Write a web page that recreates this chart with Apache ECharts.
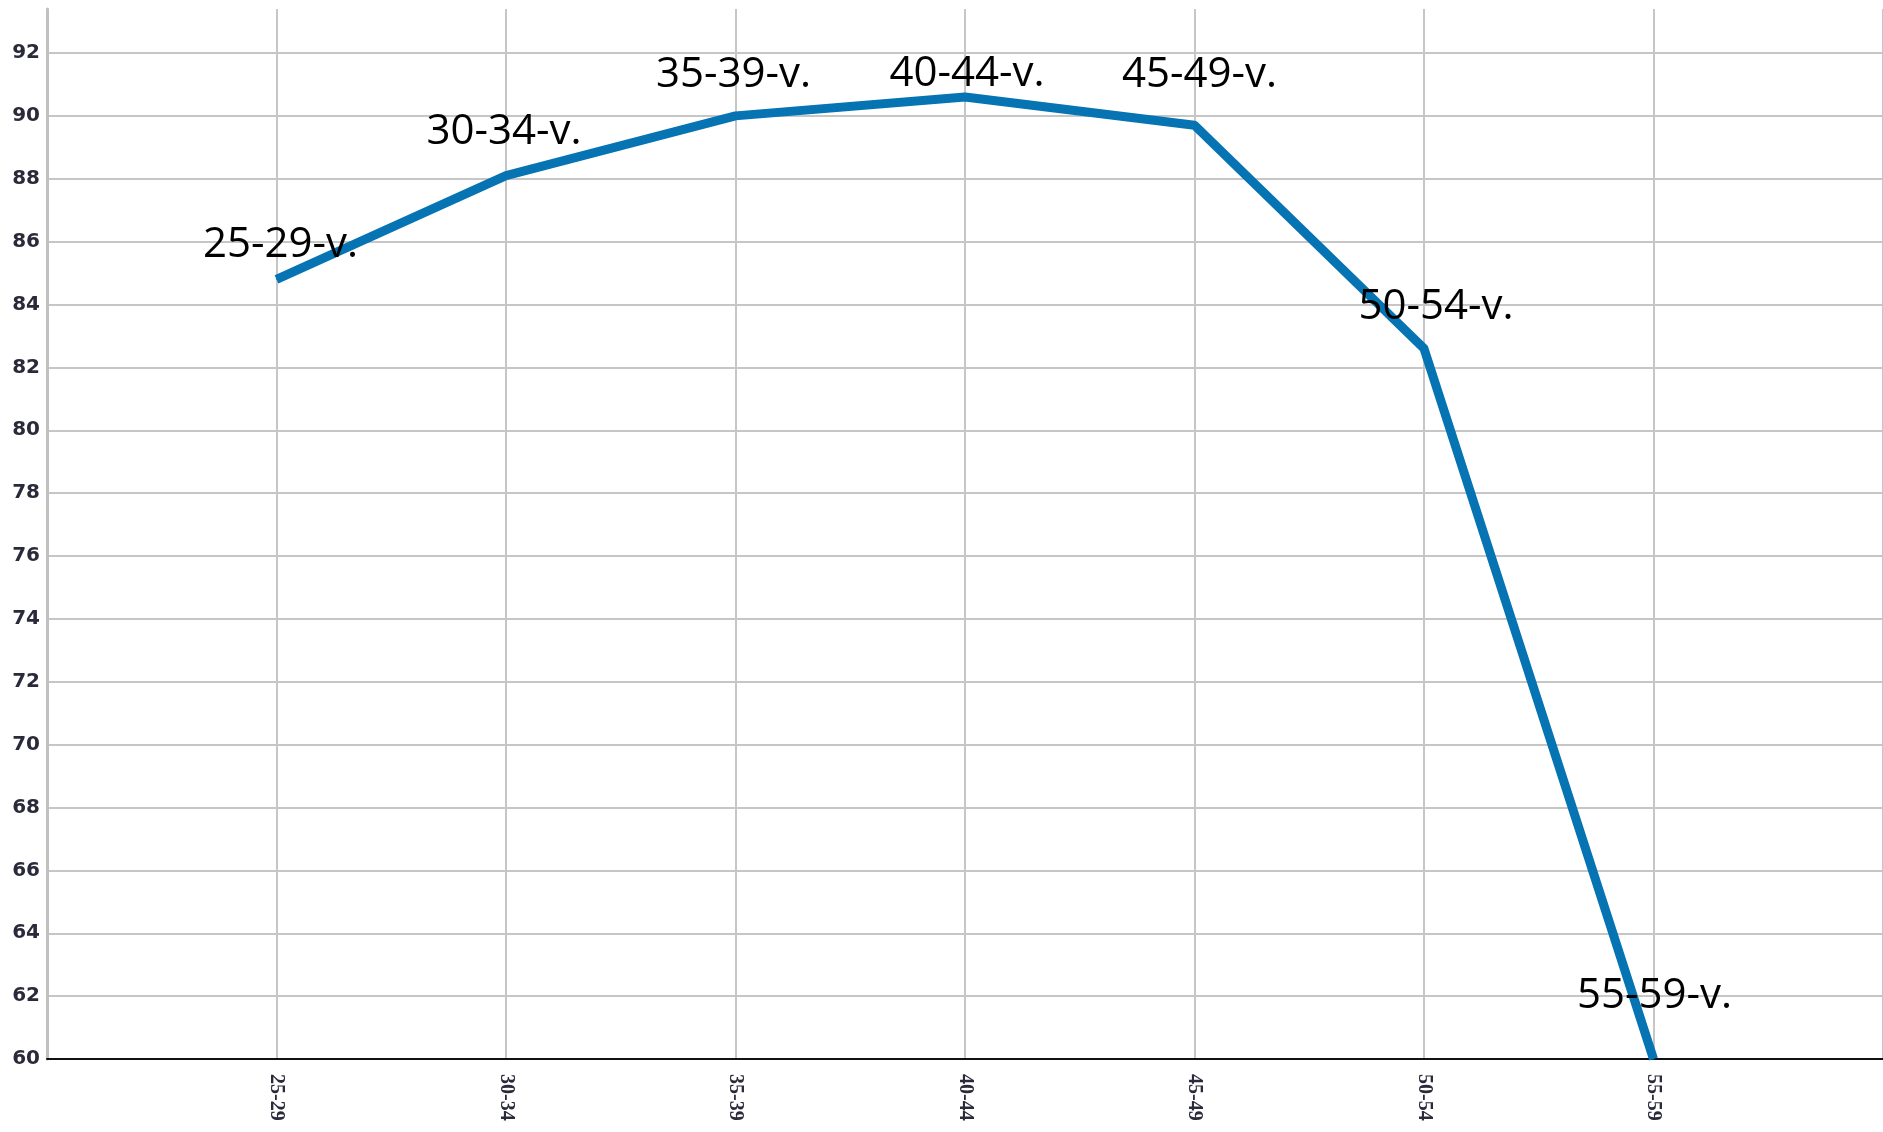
<!DOCTYPE html>
<html>
<head>
<meta charset="utf-8">
<script src="https://cdn.jsdelivr.net/npm/echarts@6/dist/echarts.min.js"></script>
<style>html,body{margin:0;padding:0;background:#fff}#c{width:1883px;height:1132px}</style>
</head>
<body>
<div id="c"></div>
<script>
const categories = ['', '25-29', '30-34', '35-39', '40-44', '45-49', '50-54', '55-59', ''];
const values = [null, 84.8, 88.1, 90.0, 90.6, 89.7, 82.6, 60.0, null];
const labelSuffix = '-v.';

const nudges = [null, [4, -34], [-2, -44], [-2, -41], [2, -23], [5, -50], [12, -41], [1, -63]];

const chart = echarts.init(document.getElementById('c'), null, {renderer: 'canvas'});
const seriesData = values.map((v, i) => {
  if (v === null) return null;
  return {
    value: v,
    label: {offset: nudges[i]}
  };
});
chart.setOption({
  animation: false,
  backgroundColor: '#ffffff',
  grid: {left: 47, right: 0, top: 9, bottom: 73},
  xAxis: {
    type: 'category',
    data: categories,
    boundaryGap: false,
    axisLine: {show: true, lineStyle: {color: '#111', width: 2}},
    axisTick: {show: false},
    axisLabel: {
      rotate: -90, margin: 15, fontFamily: 'Liberation Sans Narrow', fontWeight: 'bold', fontSize: 20, color: '#2a2a3a',
      interval: 0
    },
    splitLine: {show: true, lineStyle: {color: '#c6c6c6', width: 2}}
  },
  yAxis: {
    type: 'value',
    min: 60, max: 93.4, interval: 2,
    axisLine: {show: true, lineStyle: {color: '#c0c0c0', width: 3}},
    axisTick: {show: false},
    axisLabel: {
      margin: 7, fontFamily: 'DejaVu Sans', fontWeight: 'bold', fontSize: 20, color: '#2a2a3a',
      showMaxLabel: false,
      formatter: v => (Math.abs(v - Math.round(v)) < 1e-6 ? String(Math.round(v)) : '')
    },
    splitLine: {show: true, showMaxLine: false, lineStyle: {color: '#c6c6c6', width: 2}}
  },
  series: [{
    type: 'line',
    data: seriesData,
    connectNulls: false,
    symbol: 'circle',
    symbolSize: 1,
    showSymbol: true,
    lineStyle: {color: '#0673b3', width: 9, cap: 'butt', join: 'round'},
    itemStyle: {color: '#0673b3'},
    label: {
      show: true,
      position: 'inside',
      fontFamily: 'Open Sans',
      fontSize: 42,
      color: '#000',
      formatter: p => categories[p.dataIndex] + labelSuffix
    },
    z: 3
  }]
});
</script>
</body>
</html>
